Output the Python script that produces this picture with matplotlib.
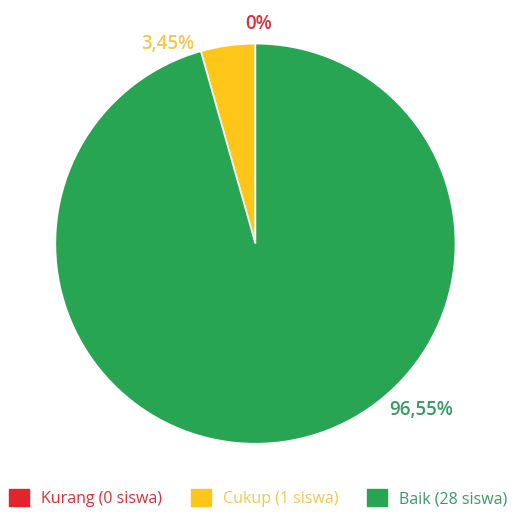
import matplotlib.pyplot as plt
from matplotlib.patches import Patch

categories = ['Kurang (0 siswa)', 'Cukup (1 siswa)', 'Baik (28 siswa)']
counts = [0, 1, 28]
# wedge shares as drawn in the reference (yellow wedge spans ~16 degrees)
slice_shares = [0, 4.4, 95.6]
pct_labels = ['0%', '3,45%', '96,55%']
colors = ['#e3242b', '#ffc61a', '#27a552']
text_colors = ['#d9303a', '#f2c84b', '#3a9a66']

plt.rcParams['font.family'] = ['Open Sans', 'DejaVu Sans']

fig = plt.figure(figsize=(5.17, 5.13), dpi=100)
ax = fig.add_axes([0.106, 0.135, 0.776, 0.78])
ax.pie(slice_shares, colors=colors, startangle=90, counterclock=True,
       wedgeprops={'edgecolor': 'white', 'linewidth': 1.2})
ax.set_xlim(-1, 1)
ax.set_ylim(-1, 1)
ax.set_aspect('equal')

# label positions (fraction of radius, picked to match reference)
label_pos = [(0.015, 1.10), (-0.44, 1.0), (0.83, -0.83)]
for (x, y), lab, c in zip(label_pos, pct_labels, text_colors):
    ax.text(x, y, lab, color=c, fontsize=13.5, fontweight='semibold',
            ha='center', va='center', clip_on=False)

handles = [Patch(facecolor=c, edgecolor=c) for c in colors]
leg = fig.legend(handles, categories, loc='center', ncol=3,
                 bbox_to_anchor=(0.5, 0.029), frameon=False, fontsize=11.5,
                 handlelength=1.25, handleheight=1.25, columnspacing=1.8,
                 handletextpad=0.75, borderpad=0.2)
for t, c in zip(leg.get_texts(), text_colors):
    t.set_color(c)
    t.set_fontweight('medium')

fig.savefig('out.png', dpi=100)
